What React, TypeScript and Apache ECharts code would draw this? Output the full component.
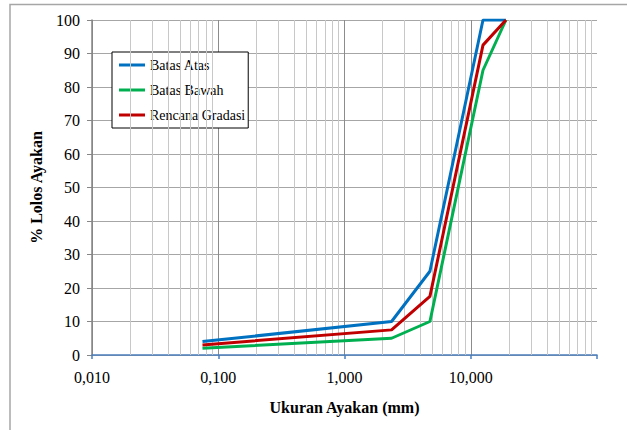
import React, { useEffect, useRef } from "react";
import * as echarts from "echarts";

const sieveSizes = [0.075, 2.36, 4.75, 12.5, 19];
const batasAtas = [4, 10, 25, 100, 100];
const batasBawah = [2, 5, 10, 85, 100];
const rencanaGradasi = [3, 7.5, 17.5, 92.5, 100];
const minorGridValues = [
  0.02, 0.03, 0.04, 0.05, 0.06, 0.07, 0.08, 0.09,
  0.2, 0.3, 0.4, 0.5, 0.6, 0.7, 0.8, 0.9,
  2, 3, 4, 5, 6, 7, 8, 9,
  20, 30, 40, 50, 60, 70, 80, 90,
];

const FONT = "'Liberation Serif', 'Times New Roman', serif";

export default function App() {
  const ref = useRef<HTMLDivElement>(null);
  useEffect(() => {
    if (!ref.current) return;
    const chart = echarts.init(ref.current, null, { renderer: "svg" });
    const pair = (ys: number[]) => sieveSizes.map((x, i) => [x, ys[i]]);
    chart.setOption({
      animation: false,
      backgroundColor: "#ffffff",
      textStyle: { fontFamily: FONT },
      graphic: [
        {
          type: "rect",
          z: -10,
          silent: true,
          shape: { x: 10, y: 4.5, width: 800, height: 600 },
          style: { fill: "none", stroke: "#a6a6a6", lineWidth: 1.5 },
        },
      ],
      grid: { left: 92, right: 30, top: 20, bottom: 75 },
      legend: {
        orient: "vertical",
        left: 112,
        top: 52,
        data: ["Batas Atas", "Batas Bawah", "Rencana Gradasi"],
        icon: "rect",
        itemWidth: 26,
        itemHeight: 3,
        itemGap: 11,
        padding: [6, 3, 6, 7],
        backgroundColor: "#ffffff",
        borderColor: "#000000",
        borderWidth: 1,
        borderRadius: 0,
        textStyle: { fontFamily: FONT, fontSize: 14, color: "#000" },
      },
      xAxis: {
        type: "log",
        logBase: 10,
        min: 0.01,
        max: 100,
        splitNumber: 4,
        name: "Ukuran Ayakan (mm)",
        nameLocation: "middle",
        nameGap: 44,
        nameTextStyle: { fontFamily: FONT, fontSize: 16, fontWeight: "bold", color: "#000" },
        axisLine: { show: true, lineStyle: { color: "#4a7ebb", width: 1.5 } },
        axisTick: { show: true, length: 4, lineStyle: { color: "#4a7ebb", width: 1.5 } },
        axisLabel: {
          margin: 14,
          fontFamily: FONT,
          fontSize: 16,
          color: "#000",
          formatter: (v: number) => (v >= 99 ? "" : v.toFixed(3).replace(".", ",")),
        },
        splitLine: { show: true, showMaxLine: false, lineStyle: { color: "#8c8c8c", width: 1 } },
      },
      yAxis: {
        type: "value",
        min: 0,
        max: 100,
        interval: 10,
        name: "% Lolos Ayakan",
        nameLocation: "middle",
        nameGap: 48,
        nameTextStyle: { fontFamily: FONT, fontSize: 16, fontWeight: "bold", color: "#000" },
        axisLine: { show: true, lineStyle: { color: "#868686", width: 1.5 } },
        axisTick: { show: true, length: 5, lineStyle: { color: "#868686" } },
        axisLabel: { margin: 12, fontFamily: FONT, fontSize: 16, color: "#000" },
        splitLine: { show: true, lineStyle: { color: "#a6a6a6", width: 1 } },
      },
      series: [
        {
          name: "grid-minor",
          type: "line",
          data: [],
          z: 1,
          silent: true,
          markLine: {
            silent: true,
            symbol: "none",
            label: { show: false },
            lineStyle: { color: "#c8c8c8", width: 1, type: "solid" },
            data: minorGridValues.map((v) => ({ xAxis: v })),
          },
        },
        {
          name: "Batas Atas",
          type: "line",
          data: pair(batasAtas),
          symbol: "none",
          z: 5,
          color: "#0070c0",
          lineStyle: { color: "#0070c0", width: 3 },
        },
        {
          name: "Batas Bawah",
          type: "line",
          data: pair(batasBawah),
          symbol: "none",
          z: 5,
          color: "#00b050",
          lineStyle: { color: "#00b050", width: 3 },
        },
        {
          name: "Rencana Gradasi",
          type: "line",
          data: pair(rencanaGradasi),
          symbol: "none",
          z: 5,
          color: "#c00000",
          lineStyle: { color: "#c00000", width: 3 },
        },
      ],
    });
    return () => chart.dispose();
  }, []);
  return (
    <div
      ref={ref}
      style={{ position: "fixed", left: 0, top: 0, width: 627, height: 430 }}
    />
  );
}
